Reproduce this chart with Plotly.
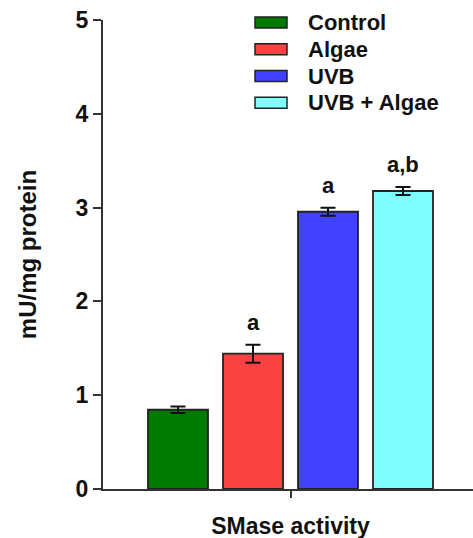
import plotly.graph_objects as go

# SMase activity per treatment group (mU/mg protein), mean ± SEM
groups = ["Control", "Algae", "UVB", "UVB + Algae"]
means = [0.845, 1.443, 2.956, 3.177]
errors = [0.035, 0.096, 0.043, 0.043]
signif = ["", "a", "a", "a,b"]
colors = ["#007A00", "#F94343", "#4141FF", "#80FFFF"]
category = "SMase activity"
y_ticks = [0, 1, 2, 3, 4, 5]

W, H = 473, 538
ML, MR, MT, MB = 103, 0, 20, 49
PW, PH = W - ML - MR, H - MT - MB
FONT = "Liberation Sans, Arial, sans-serif"
INK = "#111111"


def px_x(px):
    return (px - ML) / PW


def px_y(py):
    return (H - MB - py) / PH


def bold(size):
    return dict(family=FONT, size=size, color=INK, weight="bold")


fig = go.Figure()
for name, m, e, c in zip(groups, means, errors, colors):
    fig.add_trace(go.Bar(
        x=[category], y=[m], name=name,
        marker=dict(color=c, line=dict(color="#222222", width=1.8)),
        error_y=dict(type="data", array=[e], visible=True,
                     color=INK, thickness=2, width=7.5),
        showlegend=False,
    ))

# significance letters above each bar
slot = 0.8 / len(groups)
for i, (m, e, s) in enumerate(zip(means, errors, signif)):
    if not s:
        continue
    fig.add_annotation(
        x=(i - (len(groups) - 1) / 2) * slot, y=m + e, xref="x", yref="y",
        text=s, showarrow=False, yanchor="bottom", yshift=8,
        font=bold(22),
    )

# legend drawn as wide swatches with labels
row_y = [22.5, 49.2, 76.0, 102.8]
for name, c, ry in zip(groups, colors, row_y):
    fig.add_shape(
        type="rect", xref="paper", yref="paper",
        x0=px_x(255), x1=px_x(287), y0=px_y(ry + 5.5), y1=px_y(ry - 5.5),
        fillcolor=c, line=dict(color="#222222", width=1.5),
    )
    fig.add_annotation(
        x=px_x(306), y=px_y(ry), xref="paper", yref="paper",
        text=name, showarrow=False, xanchor="left", yanchor="middle",
        font=bold(22),
    )

fig.update_layout(
    width=W, height=H,
    margin=dict(l=ML, r=MR, t=MT, b=MB, pad=0),
    paper_bgcolor="white", plot_bgcolor="white",
    barmode="group", bargap=0.2, bargroupgap=0.2,
    font=bold(22),
    xaxis=dict(
        range=[-0.5, 0.5 - 5 / 375], showgrid=False, zeroline=False,
        showline=True, linecolor="#333333", linewidth=2,
        ticks="outside", ticklen=7, tickwidth=1.5, tickcolor="#333333",
        ticklabelstandoff=8, automargin=False,
        tickfont=bold(23),
    ),
    yaxis=dict(
        range=[0, 5], tickvals=y_ticks, showgrid=False, zeroline=False,
        showline=True, linecolor="#333333", linewidth=2,
        ticks="outside", ticklen=8, tickwidth=1.5, tickcolor="#333333",
        tickfont=bold(23), automargin=False,
        title=dict(text="mU/mg protein", standoff=32, font=bold(24)),
    ),
)

fig.write_html("out.html")
